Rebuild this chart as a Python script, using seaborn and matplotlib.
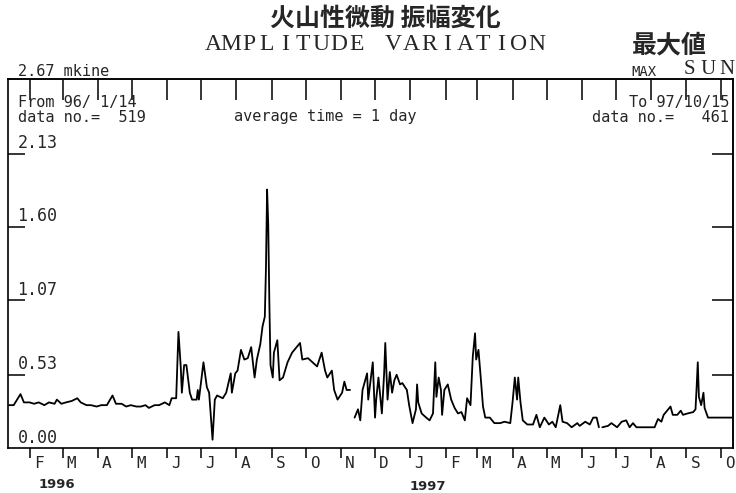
import numpy as np
import pandas as pd
import matplotlib
matplotlib.use("Agg")
import matplotlib.pyplot as plt
import matplotlib.transforms as mtransforms
import seaborn as sns

# giorni dal 1996-01-14 e ampiezza massima (mkine)
start = pd.Timestamp("1996-01-14")

seg1_days = [0, 4, 10, 13, 18, 22, 26, 31, 35, 40, 42, 46, 50, 55, 60, 63, 68, 72, 77, 81,
             86, 91, 94, 99, 103, 107, 112, 116, 120, 123, 128, 132, 137, 141, 143, 147,
             149, 151, 152, 154, 156, 159, 161, 165, 166, 167, 171, 174, 176, 179, 181,
             183, 188, 191, 195, 196, 199, 201, 204, 207, 210, 213, 216, 218, 221, 223,
             225, 226, 227, 228, 229, 230, 232, 233, 236, 238, 241, 245, 249, 251, 256,
             258, 263, 267, 271, 275, 278, 280, 284, 286, 289, 293, 295, 297, 300]
seg1_amp = [0.31, 0.31, 0.39, 0.33, 0.33, 0.32, 0.33, 0.31, 0.33, 0.32, 0.35, 0.32, 0.33,
            0.34, 0.36, 0.33, 0.31, 0.31, 0.30, 0.31, 0.31, 0.38, 0.32, 0.32, 0.30, 0.31,
            0.30, 0.30, 0.31, 0.29, 0.31, 0.31, 0.33, 0.31, 0.36, 0.36, 0.84, 0.59, 0.40,
            0.60, 0.60, 0.40, 0.35, 0.35, 0.42, 0.35, 0.62, 0.44, 0.40, 0.06, 0.35, 0.38,
            0.36, 0.40, 0.54, 0.40, 0.54, 0.56, 0.71, 0.64, 0.65, 0.73, 0.51, 0.64, 0.75,
            0.88, 0.95, 1.30, 1.87, 1.62, 1.05, 0.60, 0.51, 0.69, 0.78, 0.49, 0.51, 0.62,
            0.69, 0.71, 0.76, 0.64, 0.65, 0.62, 0.59, 0.69, 0.56, 0.51, 0.56, 0.42, 0.35,
            0.40, 0.48, 0.42, 0.42]

seg2_days = [304, 307, 309, 311, 315, 316, 320, 322, 323, 325, 328, 330, 331, 333, 335,
             337, 339, 341, 344, 346, 350, 352, 355, 358, 359, 360, 363, 367, 370, 373,
             374, 375, 376, 378, 380, 381, 383, 386, 389, 392, 395, 398, 401, 403, 406,
             408, 410, 411, 413, 415, 417, 419, 423, 427, 432, 436, 441, 443, 445, 447,
             448, 450, 452, 456, 461, 464, 467, 471, 475, 478, 481, 485, 487, 491, 495,
             500, 502, 507, 511, 514, 517, 519]
seg2_amp = [0.22, 0.28, 0.20, 0.42, 0.54, 0.35, 0.62, 0.22, 0.35, 0.51, 0.25, 0.54, 0.76,
            0.35, 0.55, 0.40, 0.49, 0.53, 0.46, 0.47, 0.42, 0.31, 0.18, 0.28, 0.46, 0.33,
            0.25, 0.22, 0.20, 0.25, 0.44, 0.62, 0.37, 0.51, 0.42, 0.24, 0.42, 0.46, 0.35,
            0.29, 0.25, 0.26, 0.20, 0.36, 0.31, 0.66, 0.83, 0.64, 0.71, 0.51, 0.30, 0.22,
            0.22, 0.18, 0.18, 0.19, 0.18, 0.33, 0.51, 0.35, 0.51, 0.33, 0.20, 0.17, 0.17,
            0.24, 0.15, 0.22, 0.17, 0.19, 0.15, 0.31, 0.19, 0.18, 0.15, 0.18, 0.16, 0.19,
            0.17, 0.22, 0.22, 0.15]

seg3_days = [522, 527, 530, 535, 539, 543, 546, 549, 552, 557, 562, 568, 571, 574, 576,
             580, 582, 584, 588, 591, 593, 597, 602, 604, 605, 606, 607, 609, 611, 612,
             615, 621, 628, 636]
seg3_amp = [0.15, 0.16, 0.18, 0.15, 0.19, 0.20, 0.15, 0.18, 0.15, 0.15, 0.15, 0.15, 0.21,
            0.19, 0.24, 0.28, 0.30, 0.24, 0.24, 0.27, 0.24, 0.25, 0.26, 0.28, 0.44, 0.62,
            0.37, 0.31, 0.40, 0.29, 0.22, 0.22, 0.22, 0.22]

month_labels = ["F", "M", "A", "M", "J", "J", "A", "S", "O", "N", "D",
                "J", "F", "M", "A", "M", "J", "J", "A", "S", "O"]
y_ticks = [0.53, 1.07, 1.60, 2.13]
y_labels = ["0.53", "1.07", "1.60", "2.13"]

frames = []
for i, (d, a) in enumerate([(seg1_days, seg1_amp), (seg2_days, seg2_amp), (seg3_days, seg3_amp)]):
    frames.append(pd.DataFrame({"date": start + pd.to_timedelta(d, unit="D"), "amp": a, "seg": i}))
df = pd.concat(frames, ignore_index=True)

sns.set_theme(style="white")
plt.rcParams["font.family"] = ["DejaVu Sans Mono", "Noto Sans CJK JP"]

W, H = 736, 493
fig = plt.figure(figsize=(W / 100, H / 100), dpi=100)
ax = fig.add_axes([8 / W, 45 / H, 725 / W, 369 / H])

sns.lineplot(data=df, x="date", y="amp", units="seg", estimator=None,
             color="black", linewidth=1.3, ax=ax)

ax.set_xlim(pd.Timestamp("1996-01-13"), pd.Timestamp("1997-10-12"))
ax.set_ylim(0, 2.67)
ax.set_xlabel("")
ax.set_ylabel("")
for s in ax.spines.values():
    s.set_color("black")
    s.set_linewidth(1.2)

month_dates = pd.date_range("1996-02-01", "1997-10-01", freq="MS")
ax.set_xticks(month_dates)
ax.set_xticklabels(month_labels, fontsize=11.5)
ax.tick_params(axis="x", bottom=True, direction="out", length=7, width=1.1,
               color="black", pad=-1)
offset = mtransforms.ScaledTranslation(3 / 72, 0, fig.dpi_scale_trans)
for lab in ax.get_xticklabels():
    lab.set_ha("left")
    lab.set_transform(lab.get_transform() + offset)

ax.set_yticks(y_ticks)
ax.set_yticklabels([])
ax.tick_params(axis="y", left=True, direction="in", length=12, width=1.1, color="black")

top = ax.secondary_xaxis("top")
top.set_xticks(month_dates)
top.set_xticklabels([])
top.tick_params(top=True, direction="in", length=15, width=1.1, color="black")

right = ax.secondary_yaxis("right")
right.set_yticks(y_ticks)
right.set_yticklabels([])
right.tick_params(right=True, direction="in", length=15, width=1.1, color="black")

# etichette asse y dentro il riquadro, sopra la tacca
trans = mtransforms.blended_transform_factory(ax.transAxes, ax.transData)
for v, t in zip(y_ticks + [0.0], y_labels + ["0.00"]):
    ax.text(0.013, v + 0.01, t, transform=trans, fontsize=12, va="bottom", ha="left")


def px(x, y):
    return x / W, 1 - y / H


fig.text(*px(385, 19), "火山性微動 振幅変化", family=["Noto Sans CJK JP"],
         fontsize=18, fontweight="bold", ha="center", va="center")
fig.text(*px(669, 45), "最大値", family=["Noto Sans CJK JP"],
         fontsize=18, fontweight="bold", ha="center", va="center")

title = "AMPLITUDE VARIATION"
for i, ch in enumerate(title):
    fig.text(*px(213 + i * 18, 44), ch, family="Liberation Serif",
             fontsize=17, ha="center", va="center")
for i, ch in enumerate("SUN"):
    fig.text(*px(689 + i * 19, 69), ch, family="Liberation Serif",
             fontsize=15, ha="center", va="center")
fig.text(*px(644, 72), "MAX", fontsize=10, ha="center", va="center")

fig.text(*px(18, 72), "2.67 mkine", fontsize=11, ha="left", va="center")
fig.text(*px(18, 103), "From 96/ 1/14", fontsize=11, ha="left", va="center")
fig.text(*px(18, 117), "data no.=  519", fontsize=11, ha="left", va="center")
fig.text(*px(325, 117), "average time = 1 day", fontsize=11, ha="center", va="center")
fig.text(*px(729, 103), "To 97/10/15", fontsize=11, ha="right", va="center")
fig.text(*px(729, 117), "data no.=   461", fontsize=11, ha="right", va="center")

fig.text(*px(57, 484), "1996", family="DejaVu Sans", fontsize=9.5,
         fontweight="bold", ha="center", va="center")
fig.text(*px(428, 487), "1997", family="DejaVu Sans", fontsize=9.5,
         fontweight="bold", ha="center", va="center")

fig.savefig("out.png", dpi=100)
